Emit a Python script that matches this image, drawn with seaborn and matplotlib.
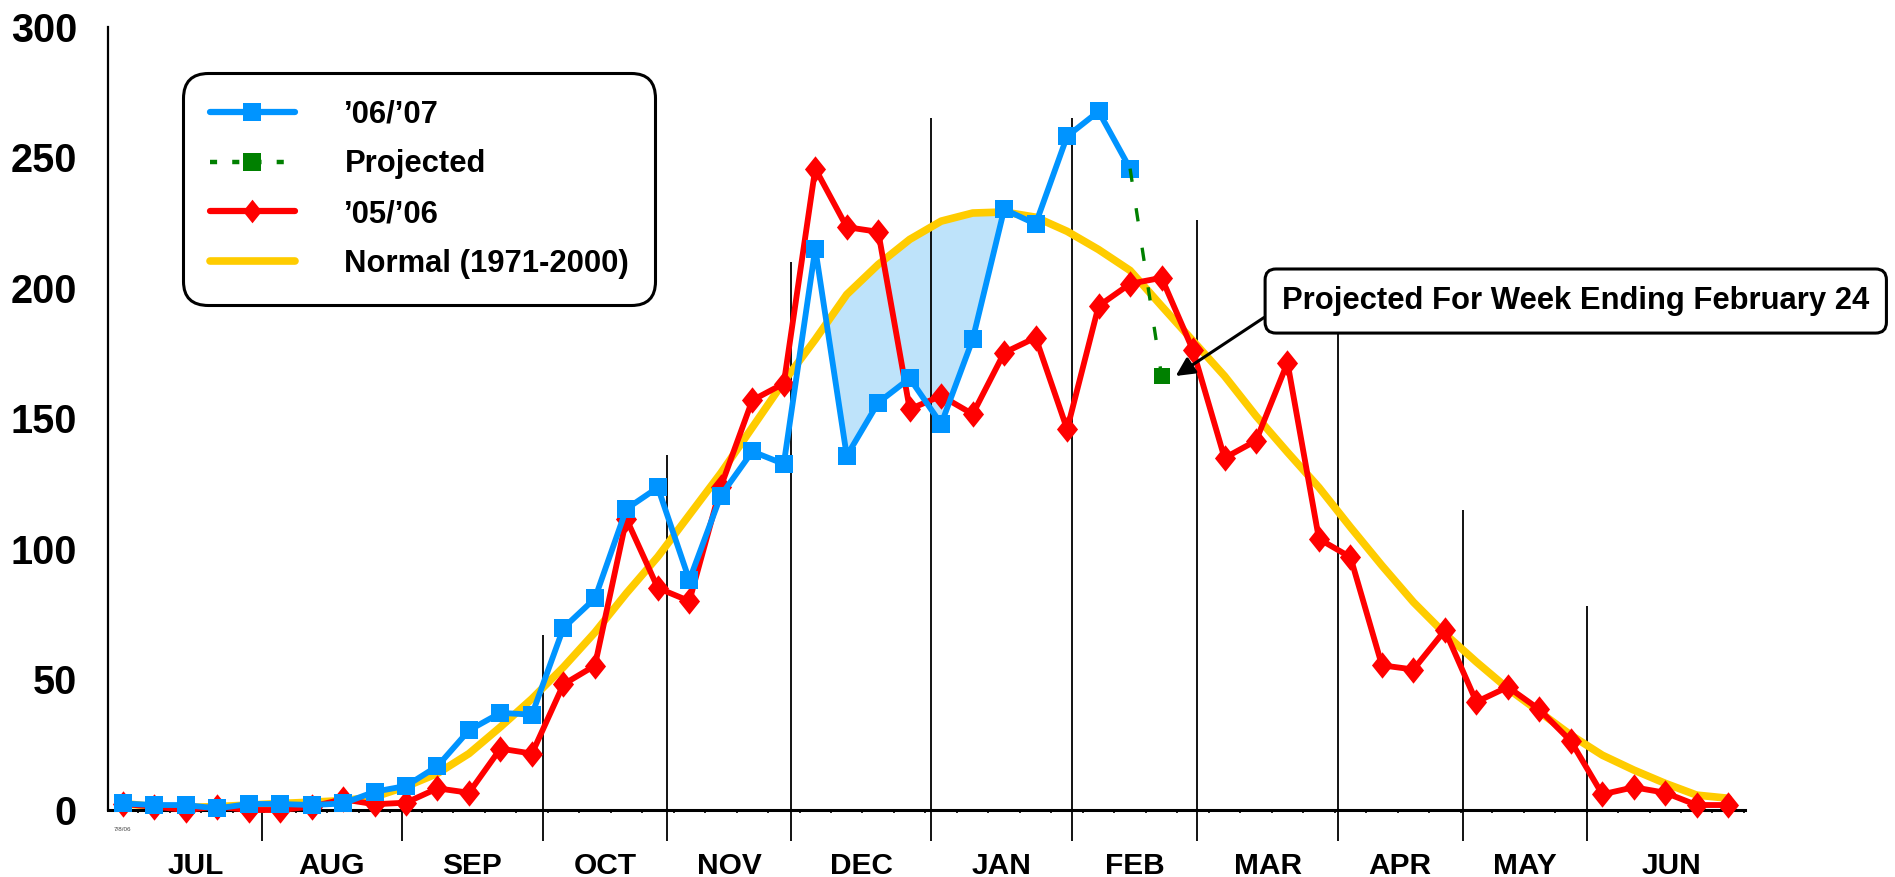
import numpy as np
import pandas as pd
import matplotlib
matplotlib.use('Agg')
import matplotlib.pyplot as plt
from matplotlib.lines import Line2D
import seaborn as sns

# weekly values, week 0 = week ending 7/8/06
week = np.arange(52)
season_0607 = [2.5, 1.9, 1.9, 0.6, 2.3, 2.3, 1.9, 2.5, 7.0, 9.2,
               16.8, 30.5, 37.2, 36.5, 69.7, 81.0, 115.3, 123.5, 88.0, 120.4,
               137.3, 132.5, 215.0, 135.6, 156.0, 165.3, 147.8, 180.2, 230.0, 224.4,
               258.0, 267.5, 245.6]
season_0506 = [2.3, 1.3, 0.0, 1.3, 0.0, 0.0, 1.3, 4.1, 2.2, 2.8,
               8.3, 6.6, 23.5, 21.6, 48.1, 55.3, 111.5, 85.0, 80.0, 123.8,
               156.9, 163.3, 245.6, 223.2, 221.4, 153.5, 158.6, 151.6, 175.1, 180.9,
               145.8, 193.0, 201.5, 203.8, 176.0, 134.8, 141.4, 171.3, 103.8, 96.8,
               55.4, 53.8, 68.8, 41.4, 47.1, 38.5, 26.4, 6.0, 8.7, 6.6,
               1.9, 1.9]
normal = [2.5, 1.3, 1.0, 1.3, 1.9, 2.5, 3.0, 3.6, 5.0, 9.0,
          14.0, 21.6, 31.8, 42.6, 54.7, 68.0, 83.0, 97.0, 113.0, 129.0,
          146.5, 164.0, 180.2, 197.4, 208.9, 218.5, 225.5, 228.6, 229.0, 227.0,
          221.6, 214.6, 206.6, 193.0, 179.6, 166.2, 150.9, 137.0, 123.5, 108.3,
          93.6, 79.6, 67.5, 56.7, 46.5, 37.6, 28.7, 21.0, 15.3, 10.2,
          5.7, 4.5]
proj_week = [32, 33]
proj_value = [245.6, 166.2]
months = ['JUL', 'AUG', 'SEP', 'OCT', 'NOV', 'DEC', 'JAN', 'FEB', 'MAR', 'APR', 'MAY', 'JUN']

# layout of month dividers (in week units) and how far each divider reaches up
month_edges = [0.2, 4.42, 8.87, 13.35, 17.29, 21.24, 25.68, 30.16, 34.14, 38.59, 42.57, 46.52, 51.9]
divider_tops = [0, 0, 67, 136, 210, 265, 265, 226, 194, 115, 78]

BLUE = '#0094FF'
RED = '#FF0000'
GOLD = '#FFCC00'
GREEN = '#008000'
diamond = [(0, 1), (0.8, 0), (0, -1), (-0.8, 0), (0, 1)]

sns.set_theme(style='white')
plt.rcParams['font.family'] = ['Liberation Sans', 'DejaVu Sans']
plt.rcParams['font.weight'] = 'bold'
plt.rcParams['text.color'] = 'black'
plt.rcParams['xtick.color'] = 'black'
plt.rcParams['ytick.color'] = 'black'
plt.rcParams['lines.solid_capstyle'] = 'round'

df = pd.DataFrame({'week': week, 'season_0506': season_0506, 'normal': normal})
df_0607 = pd.DataFrame({'week': week[:len(season_0607)], 'season_0607': season_0607})

fig = plt.figure(figsize=(18.95, 8.77), dpi=100)
ax = fig.add_axes([0.0571, 0.0764, 0.8637, 0.8933])

# shaded gap where this season ran below normal in Dec/Jan
seg = slice(22, 29)
b = np.array(season_0607[seg])
n = np.array(normal[seg])
ax.fill_between(week[seg], b, n, where=b < n, interpolate=True,
                color='#BEE3FA', lw=0, zorder=1)

# month dividers
inner = month_edges[1:-1]
vl = ax.vlines(inner, -12, divider_tops, color='black', lw=1.3, zorder=1)
vl.set_clip_on(False)

sns.lineplot(data=df, x='week', y='normal', color=GOLD, lw=5.5, ax=ax,
             zorder=2, clip_on=False, legend=False)
sns.lineplot(data=df, x='week', y='season_0506', color=RED, lw=4.2, marker=diamond,
             markersize=19, markeredgewidth=0, ax=ax, zorder=3, clip_on=False, legend=False)
sns.lineplot(data=df_0607, x='week', y='season_0607', color=BLUE, lw=4.2, marker='s',
             markersize=12.5, markeredgewidth=0, ax=ax, zorder=4, clip_on=False, legend=False)
ax.plot(proj_week, proj_value, color=GREEN, lw=2.4, ls=(0, (4, 8)), zorder=4)
ax.plot(proj_week[1:], proj_value[1:], ls='none', marker='s', color=GREEN,
        markersize=12, markeredgewidth=0, zorder=5)

ax.set_xlim(-0.46, 51.53)
ax.set_ylim(0, 300)
ax.set_xlabel('')
ax.set_ylabel('')

for s in ['top', 'right']:
    ax.spines[s].set_visible(False)
ax.spines['left'].set_linewidth(1.6)
ax.spines['bottom'].set_linewidth(2.2)
ax.spines['left'].set_color('black')
ax.spines['bottom'].set_color('black')

ax.set_yticks(np.arange(0, 301, 50))
ax.tick_params(axis='y', which='major', direction='out', length=9.5, width=1.6,
               color='black', pad=13, labelsize=28.5)
for lab in ax.get_yticklabels():
    lab.set_fontweight('bold')

month_mid = [(month_edges[i] + month_edges[i + 1]) / 2 for i in range(len(months))]
ax.set_xticks(month_mid)
ax.set_xticklabels(months, fontsize=21.5, fontweight='bold')
ax.tick_params(axis='x', which='major', length=0, pad=30)
ax.set_xticks(np.arange(0.5, 51.6, 1), minor=True)
ax.tick_params(axis='x', which='minor', direction='out', length=2.5, width=1.2,
               color='black', bottom=True)

ax.text(0, -7.6, '7/8/06', fontsize=4.5, color='#444444', ha='center', va='center',
        fontweight='normal')

handles = [
    Line2D([], [], color=BLUE, lw=4.5, marker='s', markersize=13, markeredgewidth=0),
    Line2D([], [], color=GREEN, lw=3.2, ls=(0, (1.6, 3.4)), marker='s', markersize=13,
           markeredgewidth=0),
    Line2D([], [], color=RED, lw=4.5, marker=diamond, markersize=17, markeredgewidth=0),
    Line2D([], [], color=GOLD, lw=5.5),
]
labels = ['\u201906/\u201907', 'Projected', '\u201905/\u201906', 'Normal (1971-2000)']
leg = ax.legend(handles, labels, loc='upper left', bbox_to_anchor=(0.0459, 0.9404),
                borderaxespad=0, frameon=True, fancybox=True, borderpad=0.85,
                labelspacing=0.64, handlelength=2.75, handletextpad=1.6,
                prop={'size': 22.3, 'weight': 'bold'})
frame = leg.get_frame()
frame.set_edgecolor('black')
frame.set_linewidth(2.2)
frame.set_alpha(1)
frame.set_boxstyle('round', pad=0, rounding_size=0.8)

ax.annotate('Projected For Week Ending February 24', xy=(33.45, 166.2),
            xytext=(36.83, 194.9), ha='left', va='center', fontsize=22.3,
            fontweight='bold', annotation_clip=False, zorder=6,
            bbox=dict(boxstyle='round,pad=0.55,rounding_size=0.35', fc='white',
                      ec='black', lw=2.2),
            arrowprops=dict(arrowstyle='-|>', color='black', lw=2.2,
                            mutation_scale=28, shrinkA=0, shrinkB=0,
                            relpos=(0, 0.35)))

fig.savefig('out.png', dpi=100)
